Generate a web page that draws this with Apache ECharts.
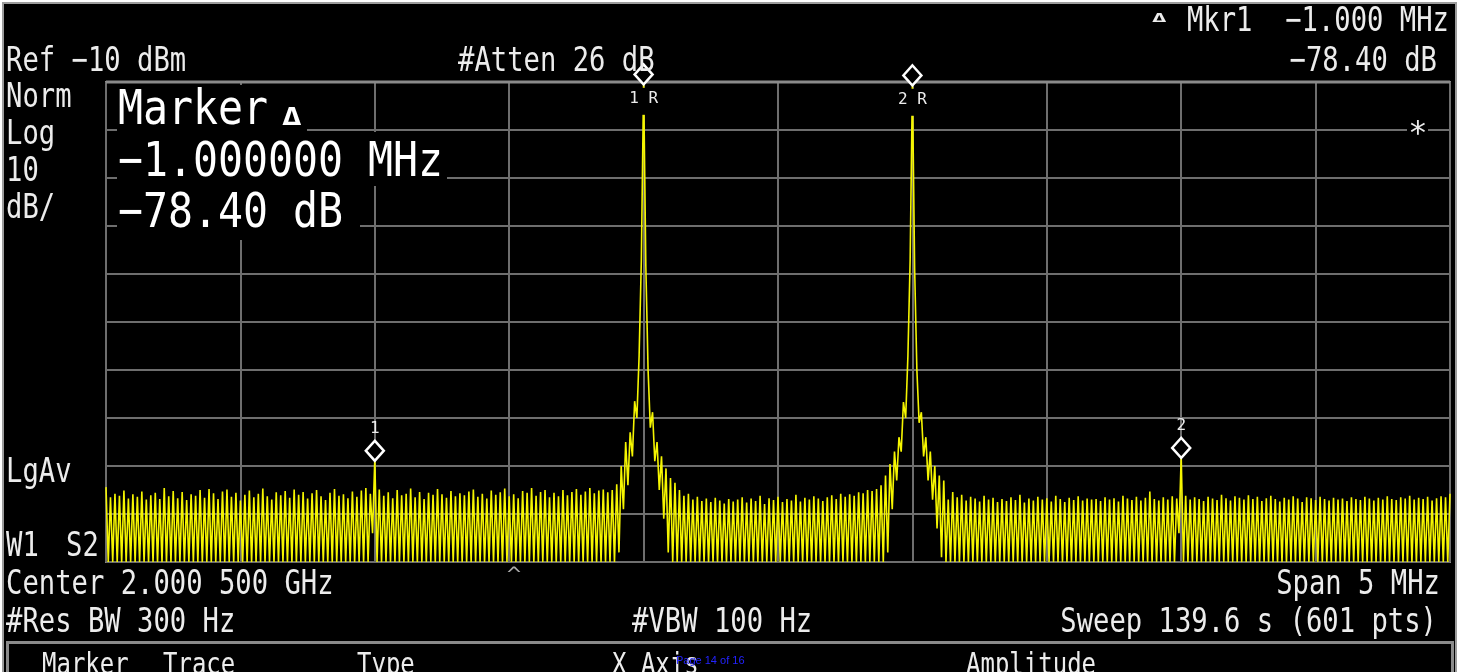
<!DOCTYPE html>
<html>
<head>
<meta charset="utf-8">
<script src="https://cdn.jsdelivr.net/npm/echarts@6/dist/echarts.min.js"></script>
<style>
  html, body { margin: 0; padding: 0; background: #fff; }
  #screen { width: 1465px; height: 672px; }
</style>
</head>
<body>
<div id="screen"></div>
<script>
// Sweep setup: 1.998 GHz .. 2.003 GHz (center 2.000 500 GHz, span 5 MHz), 601 points
const startMHz = 1998;
const spanMHz = 5;
const sweepPoints = 601;
const refLevel = -10;      // dBm, top graticule line
const dbPerDiv = 10;
const divisions = 10;

// Trace samples at even sweep points (0, 2, ... 600), dBm
const peakTrace = [
  -94.4, -96.5, -95.8, -96.2, -95.1, -96.8, -95.9, -96.4, -95.3, -97.0, -96.1, -95.6, -96.9, -94.6, -96.3, -95.2, -96.7, -95.4, -97.1, -95.9,
  -96.2, -95.0, -96.6, -94.8, -95.7, -96.9, -95.3, -94.9, -96.4, -95.6, -97.2, -96.0, -95.1, -96.5, -95.8, -94.7, -96.3, -97.0, -95.5, -96.1,
  -95.2, -96.6, -94.9, -96.0, -95.4, -96.8, -95.7, -95.0, -96.3, -97.1, -95.6, -94.8, -96.2, -95.9, -96.7, -95.3, -96.4, -95.1, -94.6, -95.8,
  -88.5,
  -94.9, -96.2, -95.5, -96.7, -95.0, -96.1, -95.8, -94.7, -96.5, -95.4, -96.9, -95.6, -96.0, -94.8, -95.9, -96.6, -95.2, -96.3, -95.7,
  -96.1, -95.3, -94.9, -96.4, -95.8, -96.8, -95.1, -96.0, -95.5, -94.7, -96.3, -95.9, -96.7, -95.2, -95.6, -94.6, -96.2, -95.4, -95.0, -96.5,
  -95.6, -96.3, -95.0, -96.1, -95.4, -94.8, -96.0, -95.3, -94.6, -95.7, -95.1, -94.9, -95.5, -95.0, -93.8, -90.0, -85.0, -83.0, -76.5, -67.0,
  -10.1,
  -70.0, -78.8, -85.0, -88.0, -90.5, -92.5, -93.5, -95.0, -96.2, -95.8, -97.0, -96.4, -97.3, -96.8, -97.5, -96.6, -97.2, -97.8, -96.9, -97.4,
  -97.0, -96.5, -97.6, -96.8, -97.3, -96.2, -97.9, -96.7, -97.1, -96.4, -97.5, -96.9, -97.2, -96.0, -97.4, -96.6, -97.0, -96.3, -96.8, -97.3,
  -96.5, -96.1, -96.9, -95.8, -96.4, -95.9, -96.2, -95.5, -95.7, -95.0, -95.2, -94.8, -94.0, -92.0, -89.6, -87.0, -84.0, -76.7, -67.0, -10.3,
  -70.0, -78.8, -84.0, -87.0, -90.0, -92.0, -93.0, -97.0, -95.4, -96.5, -96.0, -97.2, -96.4, -96.8, -97.4, -96.2, -97.0, -96.6, -97.5, -96.9,
  -97.3, -96.5, -97.1, -96.0, -97.6, -96.8, -97.2, -96.4, -97.0, -96.7, -97.4, -96.2, -96.9, -97.5, -96.6, -97.1, -96.3, -97.2, -96.8, -97.0,
  -96.9, -97.3, -96.5, -97.0, -96.7, -97.4, -96.2, -96.8, -97.1, -96.4, -97.2, -96.6, -95.3, -96.9, -97.2, -96.5, -97.0, -96.3, -96.8,
  -87.9,
  -96.2, -97.0, -96.5, -96.9, -97.3, -96.4, -96.8, -97.1, -96.0, -96.7, -97.2, -96.3, -96.6, -97.0, -96.1, -96.9, -96.4, -97.3, -96.7, -96.2,
  -96.9, -97.4, -96.6, -97.0, -96.3, -96.8, -97.5, -96.5, -96.7, -97.1, -96.4, -96.9, -97.2, -96.6, -97.0, -96.8, -97.3, -96.5, -96.9, -97.1,
  -96.4, -96.8, -97.2, -96.6, -97.0, -96.3, -96.9, -97.1, -96.5, -96.8, -96.2, -97.0, -96.6, -96.9, -96.4, -97.2, -96.7, -96.3, -96.5, -95.8
];

// Trace samples at odd sweep points (1, 3, ... 599), dBm; -110 is the display floor
const valleyTrace = [
  -110, -110, -110, -110, -110, -110, -110, -110, -110, -110, -110, -110, -110, -110, -110, -110, -110, -110, -110, -110,
  -110, -110, -110, -110, -110, -110, -110, -110, -110, -110, -110, -110, -110, -110, -110, -110, -110, -110, -110, -110,
  -110, -110, -110, -110, -110, -110, -110, -110, -110, -110, -110, -110, -110, -110, -110, -110, -110, -110, -110, -104,
  -110, -110, -110, -110, -110, -110, -110, -110, -110, -110, -110, -110, -110, -110, -110, -110, -110, -110, -110, -110,
  -110, -110, -110, -110, -110, -110, -110, -110, -110, -110, -110, -110, -110, -110, -110, -110, -110, -110, -110, -110,
  -110, -110, -110, -110, -110, -110, -110, -110, -110, -110, -110, -110, -110, -110, -108, -99, -94, -88, -80, -47,
  -48.5, -82, -89, -95, -101, -108, -110, -110, -110, -110, -110, -110, -110, -110, -110, -110, -110, -110, -110, -110,
  -110, -110, -110, -110, -110, -110, -110, -110, -110, -110, -110, -110, -110, -110, -110, -110, -110, -110, -110, -110,
  -110, -110, -110, -110, -110, -110, -110, -110, -110, -110, -110, -110, -110, -110, -108, -99, -93, -87, -80, -47,
  -49, -81, -88, -93, -97, -103, -109, -110, -110, -110, -110, -110, -110, -110, -110, -110, -110, -110, -110, -110,
  -110, -110, -110, -110, -110, -110, -110, -110, -110, -110, -110, -110, -110, -110, -110, -110, -110, -110, -110, -110,
  -110, -110, -110, -110, -110, -110, -110, -110, -110, -110, -110, -110, -110, -110, -110, -110, -110, -110, -110, -104,
  -110, -110, -110, -110, -110, -110, -110, -110, -110, -110, -110, -110, -110, -110, -110, -110, -110, -110, -110, -110,
  -110, -110, -110, -110, -110, -110, -110, -110, -110, -110, -110, -110, -110, -110, -110, -110, -110, -110, -110, -110,
  -110, -110, -110, -110, -110, -110, -110, -110, -110, -110, -110, -110, -110, -110, -110, -110, -110, -110, -110, -110
];

// Markers: sweep point index and the label drawn with it
const markerIndex = [240, 360, 120, 480];
const markerLabels = ['1 R', '2 R', '1', '2'];

// Screen annotations
const leftTexts = [
  ['Ref \u221210 dBm', 6, 72], ['#Atten 26 dB', 458, 72],
  ['Norm', 6, 108], ['Log', 6, 145], ['10', 6, 182], ['dB/', 6, 219],
  ['LgAv', 6, 483], ['W1', 6, 557], ['S2', 66, 557],
  ['Center 2.000 500 GHz', 6, 595], ['#Res BW 300 Hz', 6, 633], ['#VBW 100 Hz', 632, 633]
];
const rightTexts = [
  ['Mkr1  \u22121.000 MHz', 1449, 32], ['\u221278.40 dB', 1437, 72],
  ['Span 5 MHz', 1440, 595], ['Sweep 139.6 s (601 pts)', 1437, 633]
];
const markerReadout = ['Marker', '\u22121.000000 MHz', '\u221278.40 dB'];
const softkeys = [['Marker', 42], ['Trace', 163], ['Type', 357], ['X Axis', 612], ['Amplitude', 966]];

// ---- build the trace from the interleaved samples ----
const freqAt = i => startMHz + i * spanMHz / (sweepPoints - 1);
const traceValues = [];
for (let i = 0; i < sweepPoints; i++) {
  traceValues.push(i % 2 === 0 ? peakTrace[i / 2] : valleyTrace[(i - 1) / 2]);
}
const trace = traceValues.map((v, i) => [freqAt(i), v]);

const MONO = "'DejaVu Sans Mono', monospace";
const TXT = '#ececec';

function txt(text, x, base, size, o) {
  o = o || {};
  return {
    type: 'text', x: x, y: base - 0.295 * size, scaleX: o.sx || 0.8, z: 110, silent: true,
    style: {
      text: text, font: (o.bold ? 'bold ' : '') + size + 'px ' + (o.family || MONO),
      fill: o.fill || TXT, align: o.align || 'left', verticalAlign: 'middle',
      textAlign: o.align || 'left', textVerticalAlign: 'middle'
    }
  };
}
function box(x, y, w, h, z) {
  return { type: 'rect', z: z || 105, silent: true, shape: { x: x, y: y, width: w, height: h }, style: { fill: '#000' } };
}

const graphics = [];
// screen edges
graphics.push({ type: 'rect', z: 120, silent: true, shape: { x: 0, y: 0, width: 1465, height: 2 }, style: { fill: '#fff' } });
graphics.push({ type: 'rect', z: 120, silent: true, shape: { x: 0, y: 0, width: 2, height: 672 }, style: { fill: '#fff' } });
graphics.push({ type: 'rect', z: 120, silent: true, shape: { x: 1457, y: 0, width: 8, height: 672 }, style: { fill: '#fff' } });
graphics.push({ type: 'rect', z: 119, silent: true, shape: { x: 3, y: 3, width: 1453, height: 700 }, style: { fill: null, stroke: '#9c9c9c', lineWidth: 2 } });
// thicker top edge of the graticule
graphics.push({ type: 'line', z: 4, silent: true, shape: { x1: 106, y1: 82, x2: 1450, y2: 82 }, style: { stroke: '#8a8a8a', lineWidth: 3 } });
// softkey panel
graphics.push({ type: 'rect', z: 106, silent: true, shape: { x: 7.5, y: 642.5, width: 1445, height: 60 }, style: { fill: '#000', stroke: '#8a8a8a', lineWidth: 3 } });

// marker readout block on the graticule
graphics.push(box(117, 85, 190, 47), box(117, 132, 330, 54), box(117, 186, 243, 54));
markerReadout.forEach((t, k) => graphics.push(txt(t, 118, 126 + k * 51.5, 48, { sx: 0.865, fill: '#fff' })));
graphics.push(txt('\u0394', 282, 126, 25, { bold: true, sx: 1.3, fill: '#fff' }));

// annotation text
leftTexts.forEach(t => graphics.push(txt(t[0], t[1], t[2], 34)));
rightTexts.forEach(t => graphics.push(txt(t[0], t[1], t[2], 34, { align: 'right' })));
graphics.push(txt('\u0394', 1152, 22, 12, { bold: true, sx: 2.0 }));
graphics.push(box(1407, 122, 21, 16));
graphics.push(txt('*', 1418, 144, 32, { align: 'center', sx: 1 }));
graphics.push(txt('^', 514, 582, 20, { align: 'center', sx: 1.2, fill: '#a8a8a8' }));
softkeys.forEach(t => graphics.push(txt(t[0], t[1], 675, 30, { sx: 0.8 })));
graphics.push(txt('Page 14 of 16', 676, 664, 11, { sx: 1, family: "'Liberation Sans', Arial, sans-serif", fill: '#2323ff' }));

const chart = echarts.init(document.getElementById('screen'), null, { renderer: 'canvas', width: 1465, height: 672 });
chart.setOption({
  animation: false,
  backgroundColor: '#000',
  grid: { left: 106, right: 15, top: 82, bottom: 110, show: true, borderColor: '#8a8a8a', borderWidth: 2, backgroundColor: 'transparent' },
  xAxis: {
    type: 'value', min: startMHz, max: startMHz + spanMHz, interval: spanMHz / divisions,
    axisLine: { show: false }, axisTick: { show: false }, axisLabel: { show: false },
    splitLine: { show: true, lineStyle: { color: '#6e6e6e', width: 2 } }
  },
  yAxis: {
    type: 'value', min: refLevel - dbPerDiv * divisions, max: refLevel, interval: dbPerDiv,
    axisLine: { show: false }, axisTick: { show: false }, axisLabel: { show: false },
    splitLine: { show: true, lineStyle: { color: '#6e6e6e', width: 2 } }
  },
  series: [{
    type: 'line',
    data: trace,
    showSymbol: false,
    silent: true,
    clip: true,
    lineStyle: { color: '#f5f500', width: 1.6 },
    markPoint: {
      symbol: 'diamond',
      symbolSize: [18, 20],
      symbolOffset: [0, -8],
      silent: true,
      itemStyle: { color: '#000', borderColor: '#fff', borderWidth: 2.5 },
      data: markerIndex.map((idx, m) => ({
        name: markerLabels[m],
        coord: [freqAt(idx), traceValues[idx]],
        label: {
          show: true,
          formatter: markerLabels[m],
          position: m < 2 ? 'bottom' : 'top',
          distance: m < 2 ? 2 : 3,
          color: TXT,
          fontFamily: MONO,
          fontSize: 16,
          backgroundColor: m < 2 ? '#000' : 'transparent',
          padding: m < 2 ? [3, 0, 8, 0] : 0
        }
      }))
    }
  }],
  graphic: { elements: graphics }
});
</script>
</body>
</html>
